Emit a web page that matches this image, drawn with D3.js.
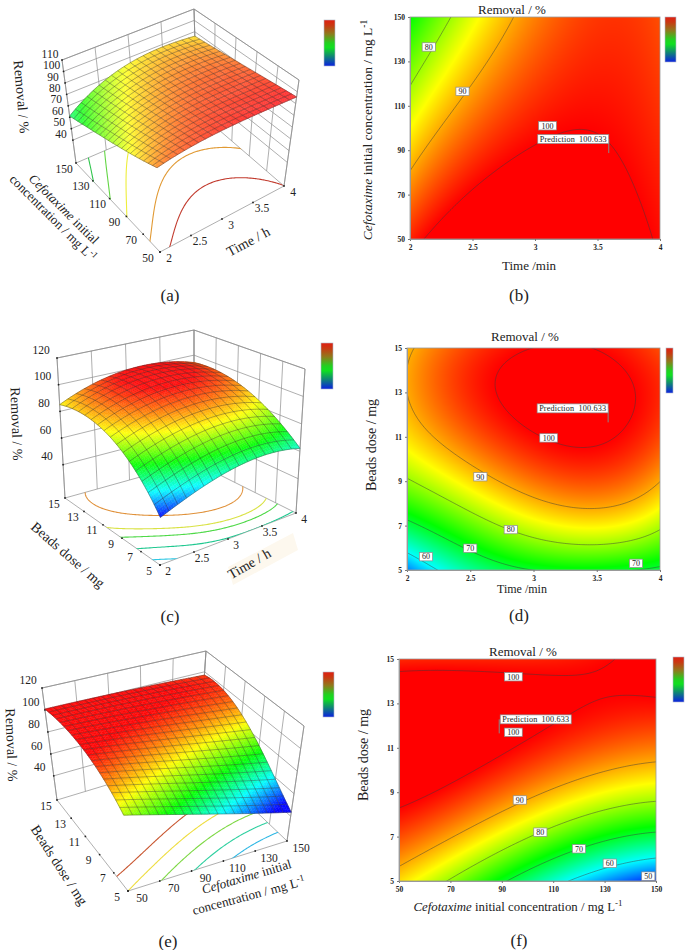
<!DOCTYPE html>
<html><head><meta charset="utf-8">
<script src="https://cdn.jsdelivr.net/npm/d3@7"></script>
<style>
html,body{margin:0;padding:0;background:#fff}
svg{display:block}
text{font-family:"Liberation Serif",serif;fill:#222}
</style></head><body>
<svg id="c" width="685" height="950"></svg>
<script>
// ---- axes ----
const timeTicks=[2,2.5,3,3.5,4];
const concTicks=[50,70,90,110,130,150];
const doseTicks=[5,7,9,11,13,15];
const timeNodes=[2,2.5,3,3.5,4];
const concNodes=[50,75,100,125,150];
const doseNodes=[5,7.5,10,12.5,15];
// ---- response (rows: y nodes, cols: x nodes) ----
const removalTimeConc=[
 [98,104.5,105.7,103.5,99.5],
 [91.5,99.4,102.5,101.5,98.5],
 [85,94,99.2,99.6,97.5],
 [78.5,88.7,96.2,98,96.5],
 [72,83.5,93,96.5,95.5]];
const removalTimeDose=[
 [54,65,70,71,69],
 [71.5,78.5,86.5,88.5,83.5],
 [83.5,92,96.5,98.5,93.5],
 [89.5,97,101.5,102.5,97.5],
 [89,96.5,100,99.8,95.5]];
const removalConcDose=[
 [87,77,67,56.5,50],
 [97.5,92.5,82,77,72],
 [103.5,100.5,96,91.5,88.3],
 [105,104,101.5,99,98],
 [97.5,98,97.8,99.3,102.5]];
// ---- response read from the 3D surfaces ----
const surfaceA=[
 [86,91,94,95,95.6],
 [79,87.5,91.5,93,93.5],
 [73.5,84,89.5,91.5,91],
 [67,80.5,87,90,88.5],
 [61,77,85,88,86]];
const surfaceColorA=[
 [93,97,99,100,101],
 [86,93,97,98,98],
 [80,89,94,96,96],
 [74,84,90,93,92],
 [67,79,85,88,87]];
const surfaceC=[
 [48,57,64,66,62],
 [70,78.4,84,83.8,78],
 [82.7,90.8,95,94,87.6],
 [88.5,97.5,102.5,101,95],
 [85,94.5,100,99.5,94]];
const surfaceE=[
 [81,72,62.6,53,43.7],
 [93,86,78,70,62],
 [102,98,93,88,83],
 [103,102,100.5,98,95],
 [101,100.5,100,98.5,97]];
const floorA=[
 [98,103.7,104.7,105,100],
 [91.5,98.5,100.8,101,97.5],
 [85.5,93.3,96.9,97.2,95],
 [79,88,93,93.3,92.5],
 [73,83,89,89.4,90]];
// ---- levels ----
const levelsB=[80,90,100];
const levelsD=[60,70,80,90,100];
const levelsF=[50,60,70,80,90,100];
const floorLevelsA=[100,95,88,83,78];
const floorColorsA=["#c23b2e","#e19a35","#eeee3c","#63d645","#2fc44c"];
const floorLevelsC=[94,85.5,80,71,60];
const floorColorsC=["#e0913a","#d9e244","#4fd948","#20c890","#2fc8e4"];
const floorLevelsE=[94,87,79,70,60];
const floorColorsE=["#c8552f","#eedd40","#7ed845","#2fd0a0","#30b8e4"];
// ---- contour labels [x,y,text] ----
const labelsB=[[2.15,136.5,"80"],[2.42,116.5,"90"],[3.1,101,"100"]];
const labelsD=[[2.15,5.6,"60"],[2.5,5.98,"70"],[3.81,5.3,"70"],[2.82,6.82,"80"],[2.58,9.2,"90"],[3.12,10.95,"100"]];
const labelsF=[[147,5.22,"50"],[132,5.8,"60"],[120,6.45,"70"],[105,7.2,"80"],[97,8.65,"90"],[94.5,11.7,"100"],[94.5,14.2,"100"]];
const rampValues=[48,60,72,85,100];
const rampColors=["#0000ff","#00ffff","#00ff00","#ffff00","#ff0000"];

const svg=d3.select("#c");
const color=d3.scaleLinear().domain(rampValues).range(rampColors).clamp(true);
const ItalicCef=t=>{t.append("tspan").attr("font-style","italic").text("Cefotaxime");t.append("tspan").text(" initial")};

// resampling of a 5x5 read-off table for drawing: the quartic wobble of the
// hand-read nodes is dropped along each axis, then the nodes are interpolated
const wob=[1,-4,6,-4,1];
const dropWobble=a=>{const k=d3.sum(a,(d,i)=>d*wob[i])/70;return a.map((d,i)=>d-k*wob[i])};
function smooth(grid){
  const r=grid.map(dropWobble);
  const cols=d3.range(5).map(c=>dropWobble(r.map(row=>row[c])));
  return r.map((row,i)=>row.map((_,c)=>cols[c][i]));
}
function sampler(gridRaw,xn,yn){
  const grid=smooth(gridRaw);
  const lag=(n,i,x)=>{let p=1;n.forEach((m,j)=>{if(j!==i)p*=(x-m)/(n[i]-m)});return p};
  return (x,y)=>{let s=0;yn.forEach((ym,r)=>{const ly=lag(yn,r,y);xn.forEach((xm,c)=>{s+=grid[r][c]*lag(xn,c,x)*ly})});return s};
}
function sampleField(f,xd,yd,nx,ny){
  const pad=0.04,w=xd[1]-xd[0],h=yd[1]-yd[0];
  const gx=d3.scaleLinear().domain([0,nx-1]).range([xd[0]-pad*w,xd[1]+pad*w]);
  const gy=d3.scaleLinear().domain([0,ny-1]).range([yd[0]-pad*h,yd[1]+pad*h]);
  const v=new Float64Array(nx*ny);
  for(let j=0;j<ny;j++)for(let i=0;i<nx;i++)v[j*nx+i]=f(gx(i),gy(j));
  return {v,gx,gy,nx,ny};
}
let clipId=0;
function colorbar(g,x0,x1,y0,y1){
  const id="cb"+(clipId++);
  const lg=svg.append("defs").append("linearGradient").attr("id",id).attr("x1",0).attr("x2",0).attr("y1",0).attr("y2",1);
  [[0,"#e01e10"],[.12,"#c83a12"],[.3,"#8f7a1c"],[.5,"#22d020"],[.6,"#10e020"],[.78,"#108a70"],[1,"#0a20e0"]]
   .forEach(s=>lg.append("stop").attr("offset",s[0]).attr("stop-color",s[1]));
  g.append("rect").attr("x",x0).attr("y",y0).attr("width",x1-x0).attr("height",y1-y0)
   .attr("fill",`url(#${id})`).attr("stroke","#aeb8c8").attr("stroke-width",.6);
}
function caption(g,x,y,t){g.append("text").attr("x",x).attr("y",y).attr("text-anchor","middle").attr("font-size",17).text(t)}
function rotated(g,x,y,a,size,build){
  const t=g.append("text").attr("transform",`translate(${x},${y}) rotate(${a})`).attr("text-anchor","middle").attr("dominant-baseline","middle").attr("font-size",size);
  build(t);return t;
}
const concLabel=t=>{ItalicCef(t);t.append("tspan").text(" concentration / mg L");t.append("tspan").attr("dy",-4).attr("font-size","0.7em").text("-1")};

// ============ contour panel ============
function contourPanel(o){
  const g=svg.append("g");
  const x=d3.scaleLinear().domain(o.xd).range([o.box[0],o.box[1]]);
  const y=d3.scaleLinear().domain(o.yd).range([o.box[3],o.box[2]]);
  const f=sampler(o.grid,o.xn,o.yn);
  const W=o.box[1]-o.box[0],H=o.box[3]-o.box[2];
  const cv=document.createElement("canvas");cv.width=W;cv.height=H;
  const ctx=cv.getContext("2d"),im=ctx.createImageData(W,H);
  for(let j=0;j<H;j++)for(let i=0;i<W;i++){
    const c=d3.rgb(color(f(x.invert(o.box[0]+i+.5),y.invert(o.box[2]+j+.5))));
    const k=(j*W+i)*4;im.data[k]=c.r;im.data[k+1]=c.g;im.data[k+2]=c.b;im.data[k+3]=255;
  }
  ctx.putImageData(im,0,0);
  g.append("image").attr("x",o.box[0]).attr("y",o.box[2]).attr("width",W).attr("height",H).attr("href",cv.toDataURL());
  const id="cl"+(clipId++);
  svg.append("defs").append("clipPath").attr("id",id).append("rect").attr("x",o.box[0]).attr("y",o.box[2]).attr("width",W).attr("height",H);
  const s=sampleField(f,o.xd,o.yd,120,120);
  const cs=d3.contours().size([s.nx,s.ny]).thresholds(o.levels)(s.v);
  const path=d3.geoPath(d3.geoTransform({point(a,b){this.stream.point(x(s.gx(a-.5)),y(s.gy(b-.5)))}}));
  g.append("g").attr("clip-path",`url(#${id})`).selectAll("path").data(cs).join("path").attr("d",path)
   .attr("fill","none").attr("stroke","#3a3a3a").attr("stroke-opacity",.8).attr("stroke-width",.6);
  g.append("rect").attr("x",o.box[0]).attr("y",o.box[2]).attr("width",W).attr("height",H).attr("fill","none").attr("stroke","#9a9a9a").attr("stroke-width",.8);
  const xa=g.append("g").attr("transform",`translate(0,${o.box[3]})`).call(d3.axisBottom(x).tickValues(o.xt).tickSize(2).tickFormat(d=>d));
  const ya=g.append("g").attr("transform",`translate(${o.box[0]},0)`).call(d3.axisLeft(y).tickValues(o.yt).tickSize(2).tickFormat(d=>d));
  [xa,ya].forEach(a=>{a.select(".domain").attr("stroke","#999");a.selectAll(".tick line").attr("stroke","#777");
    a.selectAll("text").attr("font-family","Liberation Serif").attr("font-size",7.5).attr("font-weight","bold").attr("fill","#444")});
  xa.selectAll("text").attr("y",6);ya.selectAll("text").attr("x",-5);
  const lb=g.append("g").selectAll("g").data(o.labels).join("g").attr("transform",d=>`translate(${x(d[0])},${y(d[1])})`);
  lb.append("rect").attr("x",d=>-(d[2].length*2.3+2)).attr("width",d=>2*(d[2].length*2.3+2)).attr("y",-4.2).attr("height",8.4)
    .attr("fill","#fff").attr("stroke","#8a8a8a").attr("stroke-width",.7);
  lb.append("text").attr("text-anchor","middle").attr("y",2.8).attr("font-size",8).text(d=>d[2]);
  const px=x(o.pred[0]),py=y(o.pred[1]);
  const bw=71,bh=9,bx=o.predLeft?px+1:px-bw,by=py-o.predUp;
  g.append("line").attr("x1",px).attr("x2",px).attr("y1",py).attr("y2",by).attr("stroke","#888").attr("stroke-width",1);
  g.append("rect").attr("x",bx).attr("y",by-bh/2).attr("width",bw).attr("height",bh).attr("fill","#fff").attr("stroke","#8a8a8a").attr("stroke-width",.7);
  g.append("text").attr("x",bx+bw/2).attr("y",by+2.8).attr("text-anchor","middle").attr("font-size",8.2).attr("word-spacing",2).attr("letter-spacing",.15).text("Prediction 100.633");
  g.append("text").attr("x",o.title[0]).attr("y",o.title[1]).attr("text-anchor","middle").attr("font-size",13).text("Removal / %");
  o.xlabel(g);o.ylabel(g);
  colorbar(g,...o.cb);
  caption(g,o.cap[0],o.cap[1],o.cap[2]);
}

// ============ 3D panel ============
function surfacePanel(o){
  const g=svg.append("g");
  const u=d3.scaleLinear().domain(o.xd).range([0,1]);
  const v=d3.scaleLinear().domain(o.yd).range([0,1]);
  const w=d3.scaleLinear().domain(o.zd).range([0,1]);
  const C=o.corners;
  const lerp=(a,b,t)=>[a[0]+(b[0]-a[0])*t,a[1]+(b[1]-a[1])*t];
  const proj=(x,y,z)=>{
    const a=u(x),b=v(y),c=w(z);
    const fl=lerp(lerp(C.F,C.R,a),lerp(C.L,C.B,a),b);
    const tp=lerp(lerp(C.Ft,C.Rt,a),lerp(C.Lt,C.Bt,a),b);
    return lerp(fl,tp,c);
  };
  const [x0,x1]=o.xd,[y0,y1]=o.yd,[z0,z1]=o.zd;
  const line=d3.line();
  const wall=g.append("g").attr("fill","none").attr("stroke","#8c8c8c").attr("stroke-width",.7);
  const seg=(a,b)=>wall.append("path").attr("d",line([a,b]));
  o.xt.forEach(t=>{seg(proj(t,y1,z0),proj(t,y1,z1))});
  o.yt.forEach(t=>{seg(proj(x1,t,z0),proj(x1,t,z1))});
  o.zt.forEach(z=>{seg(proj(x0,y1,z),proj(x1,y1,z));seg(proj(x1,y1,z),proj(x1,y0,z))});
  [[[x0,y1,z0],[x0,y1,z1]],[[x1,y1,z0],[x1,y1,z1]],[[x1,y0,z0],[x1,y0,z1]],
   [[x0,y1,z1],[x1,y1,z1]],[[x1,y1,z1],[x1,y0,z1]],
   [[x0,y1,z0],[x1,y1,z0]],[[x1,y1,z0],[x1,y0,z0]],[[x0,y0,z0],[x1,y0,z0]],[[x0,y0,z0],[x0,y1,z0]]]
   .forEach(e=>seg(proj(...e[0]),proj(...e[1])));
  const ff=sampler(o.floorGrid,o.xn,o.yn);
  const s=sampleField(ff,o.xd,o.yd,100,100);
  const id="fl"+(clipId++);
  svg.append("defs").append("clipPath").attr("id",id).append("path")
    .attr("d",line([proj(x0,y0,z0),proj(x1,y0,z0),proj(x1,y1,z0),proj(x0,y1,z0)])+"Z");
  const path=d3.geoPath(d3.geoTransform({point(a,b){const p=proj(s.gx(a-.5),s.gy(b-.5),z0);this.stream.point(p[0],p[1])}}));
  g.append("g").attr("clip-path",`url(#${id})`).selectAll("path").data(d3.contours().size([s.nx,s.ny]).thresholds(o.floorLevels)(s.v)).join("path")
    .attr("d",path).attr("fill","none").attr("stroke",d=>o.floorColors[o.floorLevels.indexOf(d.value)]).attr("stroke-width",1.1);
  const dots=[...o.xt.map(t=>[t,y0,z0]),...o.yt.map(t=>[x0,t,z0]),...o.zt.map(t=>[x0,y1,t])];
  g.append("g").selectAll("circle").data(dots).join("circle").attr("cx",d=>proj(...d)[0]).attr("cy",d=>proj(...d)[1]).attr("r",.9).attr("fill","#222");
  const f=sampler(o.grid,o.xn,o.yn);
  const fc=o.colorGrid?sampler(o.colorGrid,o.xn,o.yn):f;
  const N=60;
  const xs=d3.scaleLinear().domain([0,N]).range(o.xd),ys=d3.scaleLinear().domain([0,N]).range(o.yd);
  const cells=[];
  for(let j=N-1;j>=0;j--)for(let i=N-1;i>=0;i--)cells.push([i,j]);
  const cellColor=d=>d3.interpolateRgb(color(fc(xs(d[0]+.5),ys(d[1]+.5))),"#fff")(o.wash);
  g.append("g").selectAll("path").data(cells).join("path")
   .attr("d",d=>line([[d[0],d[1]],[d[0]+1,d[1]],[d[0]+1,d[1]+1],[d[0],d[1]+1]].map(q=>proj(xs(q[0]),ys(q[1]),f(xs(q[0]),ys(q[1])))))+"Z")
   .attr("fill",cellColor).attr("stroke",cellColor).attr("stroke-width",.4);
  const M=o.meshCells,ms=d3.range(0,M+1),fine=d3.range(0,61);
  const gridx=d3.scaleLinear().domain([0,M]).range(o.xd),gridy=d3.scaleLinear().domain([0,M]).range(o.yd);
  const fx=d3.scaleLinear().domain([0,60]).range(o.xd),fy=d3.scaleLinear().domain([0,60]).range(o.yd);
  const mesh=g.append("g").attr("fill","none").attr("stroke","#333").attr("stroke-opacity",.6).attr("stroke-width",.65);
  mesh.selectAll(".mx").data(ms).join("path").attr("d",m=>line(fine.map(k=>proj(gridx(m),fy(k),f(gridx(m),fy(k))))));
  mesh.selectAll(".my").data(ms).join("path").attr("d",m=>line(fine.map(k=>proj(fx(k),gridy(m),f(fx(k),gridy(m))))));
  const lab=(p,off,t)=>g.append("text").attr("x",p[0]+off[0]).attr("y",p[1]+off[1]).attr("text-anchor","middle").attr("dominant-baseline","middle").attr("font-size",11.5).text(t);
  o.xt.forEach(t=>lab(proj(t,y0,z0),o.offX,t));
  o.yt.forEach(t=>lab(proj(x0,t,z0),o.offY,t));
  o.zt.forEach(t=>lab(proj(x0,y1,t),o.offZ,t));
  if(o.patch) g.append("path").attr("d",line(o.patch)+"Z").attr("fill","#fdf8ee");
  o.titles(g);
  colorbar(g,...o.cb);
  caption(g,o.cap[0],o.cap[1],o.cap[2]);
}

const twoLineConc=(g,x1,y1,a1,x2,y2,a2)=>{
  rotated(g,x1,y1,a1,13,ItalicCef);
  rotated(g,x2,y2,a2,13,t=>{t.append("tspan").text("concentration / mg L");t.append("tspan").attr("dy",-4).attr("font-size","0.7em").text("-1")});
};

surfacePanel({
 xd:[2,4],yd:[50,150],zd:[20,110],xn:timeNodes,yn:concNodes,grid:surfaceA,colorGrid:surfaceColorA,floorGrid:floorA,meshCells:20,
 floorLevels:floorLevelsA,floorColors:floorColorsA,xt:timeTicks,yt:concTicks,zt:[40,50,60,70,80,90,100,110],
 corners:{F:[160,252],R:[284,186],L:[76,163],B:[197,111],Ft:[156,137],Rt:[299,80],Lt:[62,60],Bt:[194,9]},
 wash:.2,offX:[9,7],offY:[-12,7],offZ:[-12,-5],
 titles:g=>{
  rotated(g,20,97,85,14,t=>t.text("Removal / %"));
  twoLineConc(g,63,210,45,52,219,45);
  rotated(g,249,243,-28,14,t=>t.text("Time / h"));
 },
 cb:[324,335,20,66],cap:[170,301,"(a)"]});

contourPanel({
 xd:[2,4],yd:[50,150],xn:timeNodes,yn:concNodes,grid:removalTimeConc,levels:levelsB,xt:timeTicks,yt:concTicks,
 box:[410,660,17,239],labels:labelsB,pred:[3.59,88.7],predUp:14,title:[512,14],
 xlabel:g=>g.append("text").attr("x",529).attr("y",270).attr("text-anchor","middle").attr("font-size",13).text("Time /min"),
 ylabel:g=>rotated(g,369,130,-90,13.5,concLabel),
 cb:[665,676,17,62],cap:[519,301,"(b)"]});

surfacePanel({
 xd:[2,4],yd:[5,15],zd:[15,120],xn:timeNodes,yn:doseNodes,grid:surfaceC,floorGrid:removalTimeDose,meshCells:16,
 floorLevels:floorLevelsC,floorColors:floorColorsC,xt:timeTicks,yt:doseTicks,zt:[40,60,80,100,120],
 corners:{F:[160,565],R:[296,513],L:[65,498],B:[194,462],Ft:[161,414],Rt:[305,369],Lt:[57,358],Bt:[194,330]},
 wash:.06,offX:[8,7],offY:[-11,7],offZ:[-16,-7],
 patch:[[228,567],[293,533],[298,550],[233,585]],
 titles:g=>{
  rotated(g,15,424,88,14,t=>t.text("Removal / %"));
  rotated(g,67,556,41,14,t=>t.text("Beads dose / mg"));
  rotated(g,250,565,-30,14,t=>t.text("Time / h"));
 },
 cb:[321,333,343,389],cap:[170,622,"(c)"]});

contourPanel({
 xd:[2,4],yd:[5,15],xn:timeNodes,yn:doseNodes,grid:removalTimeDose,levels:levelsD,xt:timeTicks,yt:doseTicks,
 box:[407,660,348,570],labels:labelsD,pred:[3.59,11.65],predUp:14,title:[525,341],
 xlabel:g=>g.append("text").attr("x",522).attr("y",593).attr("text-anchor","middle").attr("font-size",12).text("Time /min"),
 ylabel:g=>rotated(g,373,445,-90,14,t=>t.text("Beads dose / mg")),
 cb:[666,673,348,393],cap:[519,621,"(d)"]});

surfacePanel({
 xd:[50,150],yd:[5,15],zd:[18,120],xn:concNodes,yn:doseNodes,grid:surfaceE,floorGrid:removalConcDose,meshCells:20,
 floorLevels:floorLevelsE,floorColors:floorColorsE,xt:concTicks,yt:doseTicks,zt:[40,60,80,100,120],
 corners:{F:[128,891],R:[287,841],L:[57,800],B:[199,757],Ft:[121,768],Rt:[304,726],Lt:[42,688],Bt:[206,651]},
 wash:.03,offX:[14,8],offY:[-11,7],offZ:[-14,-7],
 titles:g=>{
  rotated(g,10,745,88,14,t=>t.text("Removal / %"));
  rotated(g,58,866,57,14,t=>t.text("Beads dose / mg"));
  twoLineConc(g,247,878,-16.5,249,897,-15);
 },
 cb:[323,334,672,717],cap:[168,947,"(e)"]});

contourPanel({
 xd:[50,150],yd:[5,15],xn:concNodes,yn:doseNodes,grid:removalConcDose,levels:levelsF,xt:concTicks,yt:doseTicks,
 box:[399,656,659,881],labels:labelsF,pred:[89,11.65],predUp:14,predLeft:true,title:[523,656],
 xlabel:g=>rotated(g,518,908,0,12.8,concLabel),
 ylabel:g=>rotated(g,365,755,-90,14,t=>t.text("Beads dose / mg")),
 cb:[673,684,657,702],cap:[519,946,"(f)"]});
</script>
</body></html>
